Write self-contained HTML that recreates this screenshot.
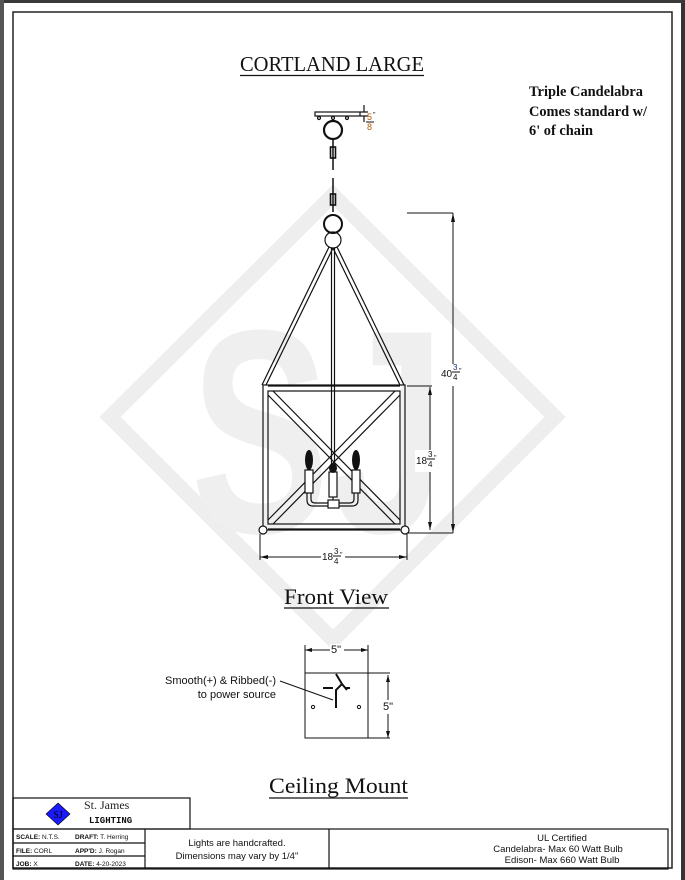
<!DOCTYPE html>
<html><head><meta charset="utf-8"><style>
html,body{margin:0;padding:0;background:#fff;}
svg{display:block;}
</style></head><body>
<svg width="685" height="880" viewBox="0 0 685 880" xmlns="http://www.w3.org/2000/svg">
<rect x="0" y="0" width="685" height="880" fill="#fff"/>
<rect x="681" y="0" width="4" height="880" fill="#333"/>
<rect x="0" y="0" width="685" height="3" fill="#3a3a3a"/>
<rect x="0" y="0" width="4" height="880" fill="#555"/>
<!-- watermark -->
<polygon points="333,195 555,417 333,640 110,417" fill="none" stroke="#eeeeee" stroke-width="15" stroke-linejoin="miter"/>
<text x="318" y="532" text-anchor="middle" font-family="Liberation Sans, sans-serif" font-weight="bold" font-size="290" fill="#efefef" textLength="255" lengthAdjust="spacingAndGlyphs">SJ</text>
<!-- page border -->
<rect x="13" y="12" width="659" height="856" fill="none" stroke="#222" stroke-width="1.5"/>
<!-- title -->
<text x="240" y="71" font-family="Liberation Serif, serif" font-size="21" textLength="184" lengthAdjust="spacingAndGlyphs" fill="#111">CORTLAND LARGE</text>
<line x1="240" y1="75.5" x2="424" y2="75.5" stroke="#111" stroke-width="1.2"/>
<g font-family="Liberation Serif, serif" font-size="15" fill="#111" font-weight="bold">
<text x="529" y="96" textLength="114" lengthAdjust="spacingAndGlyphs">Triple Candelabra</text>
<text x="529" y="116" textLength="118" lengthAdjust="spacingAndGlyphs">Comes standard w/</text>
<text x="529" y="135" textLength="64" lengthAdjust="spacingAndGlyphs">6' of chain</text>
</g>
<!-- fixture -->
<g fill="none" stroke="#111" stroke-width="1.2">
<rect x="315" y="112" width="45" height="4" fill="#fff"/>
<circle cx="319" cy="118" r="1.5"/><circle cx="347" cy="118" r="1.5"/><circle cx="333" cy="118" r="1.5"/>
<line x1="360" y1="112" x2="368" y2="112"/><line x1="360" y1="116" x2="368" y2="116"/>
<line x1="364" y1="105" x2="364" y2="112"/><line x1="364" y1="116" x2="364" y2="122"/>
<circle cx="333" cy="130" r="9" stroke-width="2.2"/>
<line x1="333" y1="139" x2="333" y2="170" stroke-width="1.5"/>
<rect x="330.5" y="147" width="5" height="11" stroke-width="1.6"/>
<line x1="333" y1="178" x2="333" y2="212" stroke-width="1.5"/>
<rect x="330.5" y="194" width="5" height="11" stroke-width="1.6"/>
<circle cx="333" cy="224" r="9" stroke-width="2"/>
<circle cx="333" cy="240" r="8"/>
<line x1="329" y1="247" x2="262" y2="385"/><line x1="333" y1="248" x2="266" y2="385"/>
<line x1="337" y1="247" x2="404" y2="385"/><line x1="333" y1="248" x2="400" y2="385"/>
<line x1="331.5" y1="248" x2="331.5" y2="465"/><line x1="334.5" y1="248" x2="334.5" y2="465"/>
<rect x="263" y="385" width="142" height="145"/>
<rect x="268" y="391" width="132" height="133"/>
<line x1="268" y1="386" x2="400" y2="386"/>
<line x1="268" y1="529" x2="400" y2="529"/>
<line x1="268" y1="395" x2="395" y2="524"/><line x1="273" y1="391" x2="400" y2="520"/>
<line x1="400" y1="395" x2="273" y2="524"/><line x1="395" y1="391" x2="268" y2="520"/>
<circle cx="263" cy="530" r="4" fill="#fff"/><circle cx="405" cy="530" r="4" fill="#fff"/>
<!-- candles -->
<rect x="305" y="470" width="8" height="23" fill="#fff"/>
<rect x="329" y="472" width="8" height="25" fill="#fff"/>
<rect x="352" y="470" width="8" height="23" fill="#fff"/>
<path d="M307 493 V500 Q307 506 313 506 H328 M358 493 V500 Q358 506 352 506 H338 M311 493 V499 Q311 503 315 503 H328 M354 493 V499 Q354 503 350 503 H338"/>
<rect x="328" y="500" width="11" height="8" fill="#fff"/>
<line x1="333" y1="497" x2="333" y2="500"/>
</g>
<ellipse cx="309" cy="460" rx="4" ry="10" fill="#111"/>
<ellipse cx="356" cy="460" rx="4" ry="10" fill="#111"/>
<ellipse cx="333" cy="468" rx="4" ry="5" fill="#111"/>
<!-- dims -->
<g stroke="#111" stroke-width="1" fill="none">
<line x1="407" y1="213" x2="453" y2="213"/>
<line x1="453" y1="213" x2="453" y2="533"/>
<line x1="407" y1="533" x2="453" y2="533"/>
<line x1="407" y1="386" x2="432" y2="386"/>
<line x1="430" y1="387" x2="430" y2="530"/>
<line x1="260" y1="534" x2="260" y2="560"/><line x1="407" y1="534" x2="407" y2="560"/>
<line x1="260" y1="557" x2="407" y2="557"/>
</g>
<g fill="#111">
<polygon points="453,213 451,222 455,222"/><polygon points="453,533 451,524 455,524"/>
<polygon points="430,387 428,395 432,395"/><polygon points="430,530 428,522 432,522"/>
<polygon points="260,557 268,555 268,559"/><polygon points="407,557 399,555 399,559"/>
</g>
<rect x="442" y="364" width="22" height="22" fill="#fff"/>
<rect x="415" y="450" width="24" height="22" fill="#fff"/>
<rect x="321" y="549" width="24" height="18" fill="#fff"/>
<g font-family="Liberation Sans, sans-serif" font-size="10" fill="#111">
<text x="441" y="377">40</text><text x="453" y="370" font-size="8" fill="#1a2a8a">3</text><line x1="452" y1="372" x2="460" y2="372" stroke="#111"/><text x="453" y="380" font-size="8">4</text><text x="459" y="373" font-size="7">"</text>
<text x="416" y="464">18</text><text x="428" y="457" font-size="8">3</text><line x1="427" y1="459" x2="435" y2="459" stroke="#111"/><text x="428" y="467" font-size="8">4</text><text x="434" y="460" font-size="7">"</text>
<text x="322" y="560">18</text><text x="334" y="554" font-size="8">3</text><line x1="333" y1="556" x2="341" y2="556" stroke="#111"/><text x="334" y="564" font-size="8">4</text><text x="340" y="557" font-size="7">"</text>
<text x="367" y="120" font-size="9" fill="#b35a00">5</text><text x="373" y="117" font-size="7">"</text><line x1="366" y1="122" x2="374" y2="122" stroke="#111"/><text x="367" y="130" font-size="9" fill="#b35a00">8</text>
</g>
<text x="284" y="604" font-family="Liberation Serif, serif" font-size="22" fill="#111" textLength="104" lengthAdjust="spacingAndGlyphs">Front View</text>
<line x1="284" y1="608" x2="389" y2="608" stroke="#111" stroke-width="1.2"/>
<!-- ceiling mount -->
<g stroke="#111" stroke-width="1" fill="none">
<rect x="305" y="673" width="63" height="65"/>
<line x1="305" y1="645" x2="305" y2="673"/><line x1="368" y1="645" x2="368" y2="673"/>
<line x1="305" y1="650" x2="368" y2="650"/>
<line x1="368" y1="673" x2="390" y2="673"/><line x1="368" y1="738" x2="390" y2="738"/>
<line x1="388" y1="675" x2="388" y2="738"/>
<circle cx="313" cy="707" r="1.6"/><circle cx="359" cy="707" r="1.6"/>
<line x1="280" y1="681" x2="333" y2="700"/>
<path d="M336 674 L342 684 L347 690 M342 684 L336 690 L336 708" stroke-width="2"/>
<line x1="323" y1="688" x2="333" y2="688" stroke-width="2"/>
<line x1="345" y1="688" x2="350" y2="688" stroke-width="2"/>
</g>
<g fill="#111"><polygon points="305,650 312,648 312,652"/><polygon points="368,650 361,648 361,652"/>
<polygon points="388,675 386,682 390,682"/><polygon points="388,738 386,731 390,731"/></g>
<rect x="330" y="644" width="14" height="12" fill="#fff"/>
<rect x="382" y="700" width="14" height="14" fill="#fff"/>
<g font-family="Liberation Sans, sans-serif" font-size="11" fill="#111">
<text x="331" y="653">5"</text>
<text x="383" y="710">5"</text>
<text x="276" y="684" text-anchor="end">Smooth(+) &amp; Ribbed(-)</text>
<text x="276" y="698" text-anchor="end">to power source</text>
</g>
<text x="269" y="793" font-family="Liberation Serif, serif" font-size="22" fill="#111" textLength="139" lengthAdjust="spacingAndGlyphs">Ceiling Mount</text>
<line x1="269" y1="798" x2="408" y2="798" stroke="#111" stroke-width="1.2"/>
<!-- title block -->
<g stroke="#111" stroke-width="1.2" fill="none">
<rect x="13" y="798" width="177" height="31"/>
<rect x="13" y="829" width="655" height="40"/>
<line x1="13" y1="843" x2="145" y2="843"/>
<line x1="13" y1="856" x2="145" y2="856"/>
<line x1="145" y1="829" x2="145" y2="869"/>
<line x1="329" y1="829" x2="329" y2="869"/>
</g>
<polygon points="58,803 70,814 58,825 46,814" fill="#1a1aff" stroke="#000" stroke-width="0.6"/>
<text x="58" y="818" text-anchor="middle" font-family="Liberation Serif, serif" font-size="10" fill="#000">SJ</text>
<text x="84" y="809" font-family="Liberation Serif, serif" font-size="12" fill="#222">St. James</text>
<text x="89" y="823" font-family="Liberation Mono, monospace" font-weight="bold" font-size="9" fill="#111">LIGHTING</text>
<g font-family="Liberation Sans, sans-serif" font-size="6.5" fill="#111">
<text x="16" y="839"><tspan font-weight="bold">SCALE:</tspan> N.T.S.</text>
<text x="16" y="853"><tspan font-weight="bold">FILE:</tspan>  CORL</text>
<text x="16" y="866"><tspan font-weight="bold">JOB:</tspan>    X</text>
<text x="75" y="839"><tspan font-weight="bold">DRAFT:</tspan> T. Herring</text>
<text x="75" y="853"><tspan font-weight="bold">APP'D:</tspan> J. Rogan</text>
<text x="75" y="866"><tspan font-weight="bold">DATE:</tspan>  4-20-2023</text>
</g>
<g font-family="Liberation Sans, sans-serif" font-size="9.5" fill="#111" text-anchor="middle">
<text x="237" y="846">Lights are handcrafted.</text>
<text x="237" y="859">Dimensions may vary by 1/4"</text>
<text x="562" y="841">UL Certified</text>
<text x="558" y="852">Candelabra- Max 60 Watt Bulb</text>
<text x="562" y="863">Edison- Max 660 Watt Bulb</text>
</g>
</svg>
</body></html>
